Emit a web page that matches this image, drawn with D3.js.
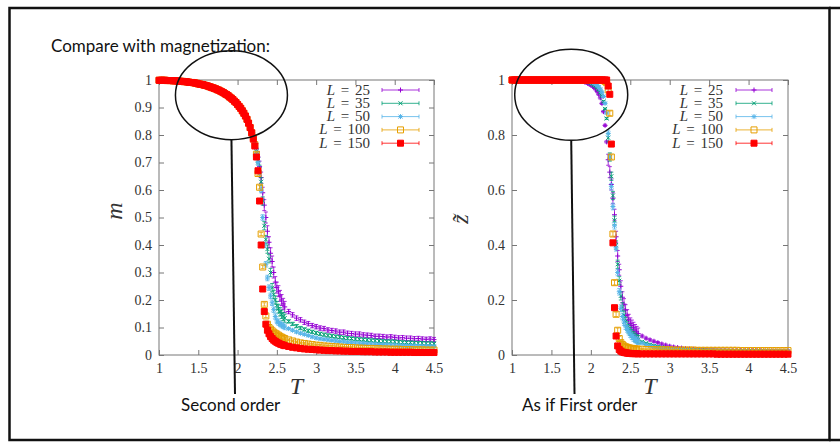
<!DOCTYPE html>
<html>
<head>
<meta charset="utf-8">
<script src="https://cdn.jsdelivr.net/npm/d3@7"></script>
<style>
  body { margin: 0; background: #fff; }
  svg  { display: block; }
  .tick line { stroke: #777; }
</style>
</head>
<body>
<script>
/* global d3 */
/* jshint esversion: 6 */

// temperature grid shared by every series
var T = [1.00,1.02,1.04,1.06,1.08,1.10,1.12,1.14,1.16,1.18,1.20,1.22,1.24,1.26,1.28,1.30,1.32,1.34,1.36,1.38,
         1.40,1.42,1.44,1.46,1.48,1.50,1.52,1.54,1.56,1.58,1.60,1.62,1.64,1.66,1.68,1.70,1.72,1.74,1.76,1.78,
         1.80,1.82,1.84,1.86,1.88,1.90,1.92,1.94,1.96,1.98,2.00,2.02,2.04,2.06,2.08,2.10,2.12,2.14,2.16,2.18,
         2.20,2.22,2.24,2.26,2.28,2.30,2.32,2.34,2.36,2.38,2.40,2.42,2.44,2.46,2.48,2.50,2.52,2.54,2.56,2.58,2.60,
         2.65,2.70,2.75,2.80,2.85,2.90,2.95,3.00,3.05,3.10,3.15,3.20,3.25,3.30,3.35,3.40,3.45,3.50,3.55,
         3.60,3.65,3.70,3.75,3.80,3.85,3.90,3.95,4.00,4.05,4.10,4.15,4.20,4.25,4.30,4.35,4.40,4.45,4.50];

// magnetization m(T): all sizes coincide below T = 2.2
var mLow = [0.999,0.999,0.999,0.999,0.999,0.998,0.998,0.998,0.998,0.997,
            0.997,0.997,0.996,0.996,0.995,0.995,0.994,0.994,0.993,0.992,
            0.991,0.991,0.990,0.989,0.988,0.986,0.985,0.984,0.983,0.981,
            0.980,0.978,0.976,0.974,0.972,0.970,0.968,0.965,0.963,0.960,
            0.957,0.954,0.950,0.947,0.943,0.938,0.934,0.929,0.923,0.918,
            0.911,0.904,0.897,0.888,0.879,0.869,0.857,0.843,0.827,0.808];

var m25 = mLow.concat([0.800,
    0.775,0.750,0.720,0.685,0.645,0.590,0.545,0.500,0.450,0.410,0.370,0.340,0.300,0.265,0.245,0.232,0.215,0.200,0.186,0.175,
    0.158,0.146,0.134,0.128,0.119,0.114,0.107,0.103,0.098,0.096,0.091,0.089,0.087,0.083,0.083,0.079,0.078,0.076,0.076,
    0.073,0.072,0.071,0.068,0.068,0.067,0.065,0.066,0.064,0.062,0.063,0.061,0.061,0.059,0.060,0.058,0.057,0.058,0.056]);
var m35 = mLow.concat([0.795,
    0.770,0.740,0.710,0.675,0.630,0.560,0.470,0.420,0.385,0.350,0.300,0.245,0.220,0.200,0.180,0.168,0.157,0.148,0.140,0.134,
    0.122,0.113,0.105,0.098,0.093,0.088,0.084,0.080,0.077,0.074,0.071,0.069,0.067,0.065,0.063,0.061,0.060,0.058,0.057,
    0.056,0.055,0.053,0.052,0.051,0.050,0.049,0.049,0.048,0.047,0.046,0.045,0.045,0.044,0.043,0.043,0.042,0.042,0.041]);
var m50 = mLow.concat([0.792,
    0.765,0.735,0.700,0.660,0.600,0.500,0.400,0.330,0.280,0.245,0.215,0.190,0.165,0.140,0.124,0.118,0.113,0.109,0.106,0.102,
    0.096,0.090,0.084,0.079,0.075,0.071,0.066,0.062,0.059,0.057,0.055,0.053,0.051,0.049,0.048,0.046,0.045,0.044,0.043,
    0.042,0.041,0.040,0.039,0.038,0.038,0.037,0.036,0.036,0.035,0.035,0.034,0.034,0.033,0.033,0.032,0.032,0.031,0.031]);
var m100 = mLow.concat([0.790,
    0.765,0.730,0.660,0.610,0.440,0.320,0.184,0.142,0.112,0.100,0.094,0.088,0.083,0.079,0.076,0.072,0.068,0.065,0.062,0.060,
    0.055,0.051,0.047,0.044,0.042,0.040,0.038,0.036,0.035,0.033,0.032,0.031,0.030,0.029,0.028,0.027,0.027,0.026,0.025,
    0.025,0.024,0.024,0.023,0.023,0.022,0.022,0.021,0.021,0.021,0.020,0.020,0.020,0.019,0.019,0.019,0.018,0.018,0.018]);
var m150 = mLow.concat([0.785,
    0.760,0.720,0.670,0.560,0.400,0.240,0.158,0.112,0.090,0.077,0.067,0.060,0.054,0.050,0.046,0.043,0.040,0.038,0.036,0.034,
    0.031,0.028,0.026,0.024,0.022,0.021,0.020,0.019,0.018,0.017,0.016,0.016,0.015,0.015,0.014,0.014,0.013,0.013,0.013,
    0.012,0.012,0.012,0.011,0.011,0.011,0.011,0.010,0.010,0.010,0.010,0.010,0.010,0.009,0.009,0.009,0.009,0.009,0.009]);

// z~(T): all sizes sit at 1 up to T = 1.78
var zLow = [1,1,1,1,1,1,1,1,1,1, 1,1,1,1,1,1,1,1,1,1, 1,1,1,1,1,1,1,1,1,1, 1,1,1,1,1,1,1,1,1,1];

var z25 = zLow.concat([
    0.999,0.999,0.998,0.997,0.996,0.995,0.993,0.991,0.988,0.985,0.982,0.978,0.973,0.967,0.958,0.948,0.935,0.915,0.885,0.835,0.775,
    0.710,0.665,0.620,0.570,0.510,0.430,0.360,0.310,0.250,0.210,0.185,0.163,0.145,0.128,0.115,0.107,0.099,0.091,0.084,0.078,
    0.069,0.061,0.055,0.050,0.045,0.040,0.036,0.032,0.029,0.027,0.025,0.023,0.022,0.021,0.020,0.019,0.019,0.018,0.018,
    0.017,0.017,0.017,0.016,0.016,0.016,0.016,0.015,0.015,0.015,0.015,0.015,0.014,0.014,0.014,0.014,0.014,0.014,0.014]);
var z35 = zLow.concat([
    1.000,1.000,0.999,0.999,0.998,0.997,0.996,0.995,0.993,0.991,0.989,0.986,0.982,0.978,0.972,0.965,0.955,0.942,0.922,0.895,0.860,
    0.790,0.720,0.650,0.580,0.490,0.400,0.330,0.270,0.215,0.175,0.145,0.122,0.106,0.095,0.086,0.078,0.071,0.065,0.060,0.056,
    0.048,0.043,0.038,0.034,0.031,0.028,0.026,0.024,0.023,0.022,0.021,0.020,0.019,0.018,0.018,0.017,0.017,0.016,0.016,
    0.016,0.015,0.015,0.015,0.015,0.014,0.014,0.014,0.014,0.014,0.013,0.013,0.013,0.013,0.013,0.013,0.013,0.013,0.013]);
var z50 = zLow.concat([
    1.000,1.000,1.000,0.999,0.999,0.999,0.998,0.997,0.996,0.995,0.993,0.991,0.988,0.984,0.980,0.974,0.966,0.955,0.940,0.915,0.880,
    0.806,0.720,0.612,0.540,0.470,0.390,0.300,0.230,0.170,0.140,0.120,0.105,0.095,0.085,0.076,0.068,0.062,0.057,0.053,0.050,
    0.043,0.037,0.033,0.029,0.026,0.024,0.022,0.021,0.020,0.019,0.018,0.017,0.017,0.016,0.016,0.015,0.015,0.015,0.014,
    0.014,0.014,0.014,0.013,0.013,0.013,0.013,0.013,0.012,0.012,0.012,0.012,0.012,0.012,0.012,0.012,0.012,0.012,0.012]);
var z100 = zLow.concat([
    1,1,1,1,1,1,1,1,1,1,1,1,1,1,1,1,1,0.999,0.998,0.995,0.990,
    0.964,0.879,0.720,0.440,0.263,0.148,0.090,0.060,0.045,0.038,0.033,0.030,0.028,0.026,0.025,0.024,0.023,0.022,0.022,0.021,
    0.021,0.020,0.020,0.020,0.019,0.019,0.019,0.019,0.018,0.018,0.018,0.018,0.018,0.018,0.017,0.017,0.017,0.017,0.017,
    0.017,0.017,0.017,0.017,0.017,0.017,0.016,0.016,0.016,0.016,0.016,0.016,0.016,0.016,0.016,0.016,0.016,0.016,0.016]);
var z150 = zLow.concat([
    1,1,1,1,1,1,1,1,1,1,1,1,1,1,1,1,1,1,1,1,1,
    0.978,0.948,0.767,0.408,0.172,0.069,0.033,0.020,0.014,0.011,0.009,0.008,0.007,0.006,0.006,0.005,0.005,0.005,0.005,0.004,
    0.004,0.004,0.004,0.004,0.004,0.004,0.004,0.004,0.004,0.004,0.004,0.004,0.004,0.004,0.004,0.004,0.004,0.004,0.004,
    0.003,0.003,0.003,0.003,0.003,0.003,0.003,0.003,0.003,0.003,0.003,0.003,0.003,0.003,0.003,0.003,0.003,0.003,0.003]);

// error bar half-heights: near Tc (2.2 < T <= 2.6) and elsewhere
var errCritM = [0.020, 0.015, 0.010, 0.006, 0.004];
var errTailM = [0.008, 0.006, 0.004, 0.003, 0.002];
var errCritZ = [0.020, 0.015, 0.012, 0.008, 0.005];
var errTailZ = [0.004, 0.003, 0.003, 0.002, 0.001];

var sizes  = ["25", "35", "50", "100", "150"];
var colors = ["#9400d3", "#009e73", "#56b4e9", "#e69f00", "#ff0000"];
var shapes = ["plus", "cross", "star", "box", "boxfill"];

var xTicks = [1, 1.5, 2, 2.5, 3, 3.5, 4, 4.5];
var mTicks = [0, 0.1, 0.2, 0.3, 0.4, 0.5, 0.6, 0.7, 0.8, 0.9, 1];
var zTicks = [0, 0.2, 0.4, 0.6, 0.8, 1];

var shapePath = {
    plus:    "M-2.5,0H2.5M0,-2.5V2.5",
    cross:   "M-2,-2L2,2M-2,2L2,-2",
    star:    "M-2.5,0H2.5M0,-2.5V2.5M-2,-2L2,2M-2,2L2,-2",
    box:     "M-3,-3H3V3H-3Z",
    boxfill: "M-3,-3H3V3H-3Z"
};

var serif = "'Liberation Serif', 'Times New Roman', serif";

var svg = d3.select("body").append("svg")
    .attr("width", 840)
    .attr("height", 442);

var drawMark = (sel, s) => {
    sel.attr("d", shapePath[shapes[s]])
       .attr("fill", shapes[s] === "boxfill" ? colors[s] : "none")
       .attr("stroke", colors[s])
       .attr("stroke-width", 1);
};

var panel = (cfg) => {
    var x = d3.scaleLinear().domain([1, 4.5]).range([cfg.left, cfg.right]);
    var y = d3.scaleLinear().domain([0, 1]).range([355, 80]);
    var g = svg.append("g");

    g.append("rect")
     .attr("x", cfg.left).attr("y", 80)
     .attr("width", cfg.right - cfg.left).attr("height", 275)
     .attr("fill", "none").attr("stroke", "#777");

    var fmt = d3.format("");
    var axes = [
        [d3.axisBottom(x).tickValues(xTicks).tickFormat(fmt).tickPadding(8), "translate(0,355)"],
        [d3.axisTop(x).tickValues(xTicks).tickFormat(""), "translate(0,80)"],
        [d3.axisLeft(y).tickValues(cfg.yTicks).tickFormat(fmt).tickPadding(7), "translate(" + cfg.left + ",0)"],
        [d3.axisRight(y).tickValues(cfg.yTicks).tickFormat(""), "translate(" + cfg.right + ",0)"]
    ];
    axes.forEach((a) => {
        var ag = g.append("g").attr("transform", a[1])
                  .call(a[0].tickSizeInner(-5).tickSizeOuter(0))
                  .attr("font-family", serif)
                  .attr("font-size", 14);
        ag.select(".domain").remove();
        ag.selectAll(".tick text").attr("fill", "#333");
    });

    // axis titles
    g.append("text")
     .attr("x", (cfg.left + cfg.right) / 2).attr("y", 394)
     .attr("text-anchor", "middle")
     .style("font", "italic 24px " + serif).style("fill", "#333")
     .text("T");
    g.append("text")
     .attr("transform", "translate(" + cfg.yLabelX + "," + cfg.yLabelY + ") rotate(-90)")
     .attr("text-anchor", "middle").attr("dy", "0.3em")
     .style("font", "italic 24px " + serif).style("fill", "#333")
     .text(cfg.yLabel);

    cfg.series.forEach((vals, s) => {
        var pts = T.map((t, i) => ({
            t: t,
            v: vals[i],
            e: (t > 2.2 && t <= 2.6) ? cfg.errCrit[s] : cfg.errTail[s]
        }));
        var sg = g.append("g");
        sg.selectAll("path.err")
          .data(pts).enter().append("path")
          .attr("d", (d) => {
              var px = x(d.t), y0 = y(d.v - d.e), y1 = y(d.v + d.e);
              return "M" + px + "," + y0 + "V" + y1
                   + "M" + (px - 2) + "," + y0 + "h4"
                   + "M" + (px - 2) + "," + y1 + "h4";
          })
          .attr("fill", "none").attr("stroke", colors[s]).attr("stroke-width", 0.8);
        sg.selectAll("path.pt")
          .data(pts).enter().append("path")
          .attr("transform", (d) => "translate(" + x(d.t) + "," + y(d.v) + ")")
          .call(drawMark, s);
    });

    // key
    sizes.forEach((lab, s) => {
        var ry = 90 + s * 13.3;
        var t = g.append("text")
                 .attr("x", cfg.keyText).attr("y", ry + 4.5)
                 .attr("text-anchor", "end")
                 .style("font", "15px " + serif)
                 .style("word-spacing", "2px").style("fill", "#333");
        t.append("tspan").style("font-style", "italic").text("L");
        t.append("tspan").text(" = " + lab);
        g.append("path")
         .attr("d", "M" + cfg.keyX0 + "," + ry + "H" + cfg.keyX1
                  + "M" + cfg.keyX0 + "," + (ry - 2) + "v4"
                  + "M" + cfg.keyX1 + "," + (ry - 2) + "v4")
         .attr("fill", "none").attr("stroke", colors[s]).attr("stroke-width", 0.8);
        g.append("path")
         .attr("transform", "translate(" + (cfg.keyX0 + cfg.keyX1) / 2 + "," + ry + ")")
         .call(drawMark, s);
    });

    return { x: x, y: y };
};

var left = panel({
    left: 159, right: 434, yTicks: mTicks, yLabel: "m", yLabelX: 115, yLabelY: 211,
    series: [m25, m35, m50, m100, m150], errCrit: errCritM, errTail: errTailM,
    keyText: 370, keyX0: 382, keyX1: 419
});
var right = panel({
    left: 512, right: 788, yTicks: zTicks, yLabel: "z\u0303", yLabelX: 461, yLabelY: 219,
    series: [z25, z35, z50, z100, z150], errCrit: errCritZ, errTail: errTailZ,
    keyText: 723, keyX0: 736, keyX1: 772
});

// slide frame
svg.append("rect")
   .attr("x", 9.5).attr("y", 8).attr("width", 820).attr("height", 432)
   .attr("fill", "none").attr("stroke", "#111").attr("stroke-width", 2.5);
svg.append("path")
   .attr("d", "M829,8H840M829,440H840")
   .attr("stroke", "#111").attr("stroke-width", 2.5);

// slide annotations
var sans = "17px Lato, 'Open Sans', sans-serif";
svg.append("text").attr("x", 51).attr("y", 52)
   .style("font", sans).style("fill", "#111")
   .text("Compare with magnetization:");

var note = (p, cx, cy, rx, ry, x2, label, lx) => {
    svg.append("ellipse")
       .attr("cx", p.x(cx)).attr("cy", p.y(cy)).attr("rx", rx).attr("ry", ry)
       .attr("fill", "none").attr("stroke", "#111").attr("stroke-width", 1.5);
    svg.append("line")
       .attr("x1", p.x(cx)).attr("y1", p.y(cy) + ry)
       .attr("x2", x2).attr("y2", 394)
       .attr("stroke", "#111").attr("stroke-width", 2);
    svg.append("text").attr("x", lx).attr("y", 411)
       .style("font", sans).style("fill", "#111")
       .text(label);
};
note(left, 1.922, 0.945, 56, 44.5, 235, "Second order", 181);
note(right, 1.751, 0.946, 56.5, 45.5, 574.5, "As if First order", 522);
</script>
</body>
</html>
